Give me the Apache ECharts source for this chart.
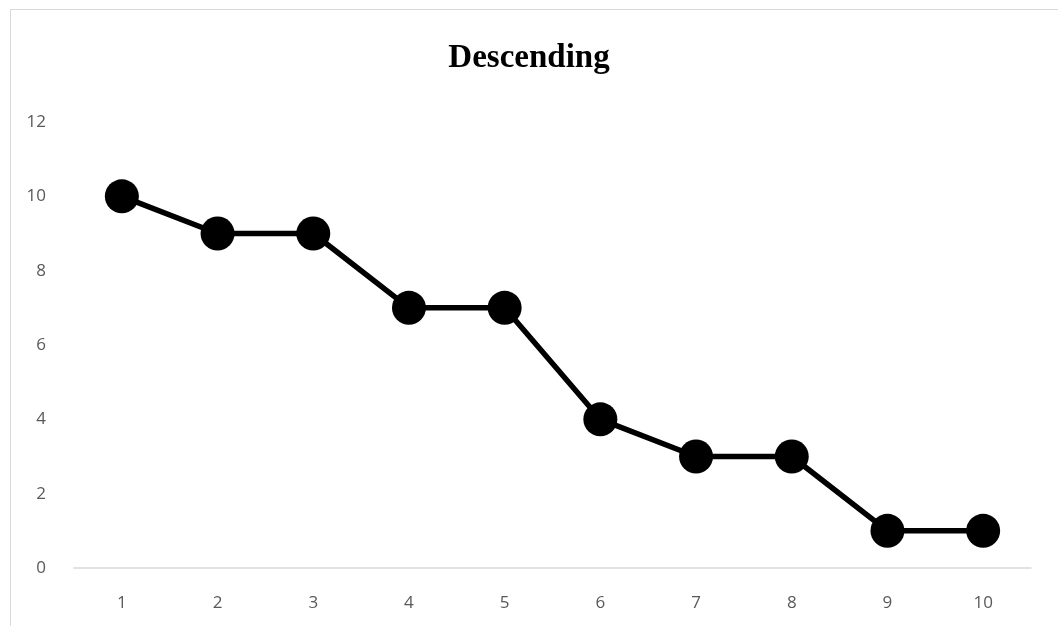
<!DOCTYPE html>
<html>
<head>
<meta charset="utf-8">
<script src="https://cdn.jsdelivr.net/npm/echarts@6/dist/echarts.min.js"></script>
<style>
  html, body { margin: 0; padding: 0; background: #fff; }
  #frame { position: absolute; left: 10px; top: 9px; width: 1060px; height: 630px;
           border: 1px solid #d9d9d9; box-sizing: border-box; }
  #chart { position: absolute; left: 0; top: 0; width: 1058px; height: 626px; }
</style>
</head>
<body>
<div id="frame"></div>
<div id="chart"></div>
<script>
const categories = ['1', '2', '3', '4', '5', '6', '7', '8', '9', '10'];
const values = [10, 9, 9, 7, 7, 4, 3, 3, 1, 1];
const yTicks = { min: 0, max: 12, interval: 2 };

const chart = echarts.init(document.getElementById('chart'));
chart.setOption({
  animation: false,
  title: {
    text: 'Descending',
    left: 'center',
    top: 37,
    textStyle: {
      fontFamily: 'Liberation Serif',
      fontWeight: 'bold',
      fontSize: 33,
      color: '#000'
    }
  },
  grid: { left: 74, right: 27, top: 122, bottom: 58 },
  xAxis: {
    type: 'category',
    data: categories,
    boundaryGap: true,
    axisLine: { lineStyle: { color: '#d9d9d9', width: 1.5 } },
    axisTick: { show: false },
    axisLabel: { color: '#595959', fontFamily: 'Open Sans', fontSize: 17, margin: 27 }
  },
  yAxis: {
    type: 'value',
    min: yTicks.min,
    max: yTicks.max,
    interval: yTicks.interval,
    axisLine: { show: false },
    axisTick: { show: false },
    splitLine: { show: false },
    axisLabel: {
      color: '#595959', fontFamily: 'Open Sans', fontSize: 17, margin: 28,
      padding: [6, 0, 0, 0]
    }
  },
  series: [{
    type: 'line',
    data: values,
    symbol: 'circle',
    symbolSize: 34,
    itemStyle: { color: '#000' },
    lineStyle: { color: '#000', width: 5.5 }
  }]
});
</script>
</body>
</html>
